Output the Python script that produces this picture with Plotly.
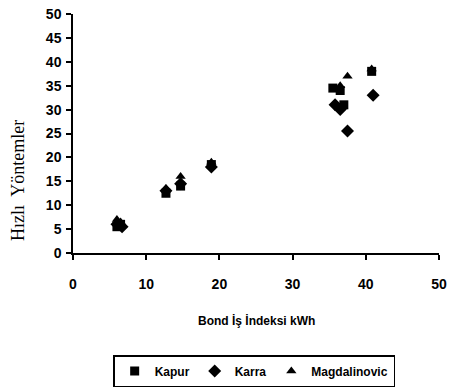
import plotly.graph_objects as go

kapur_x = [6.0, 6.5, 12.7, 14.7, 18.9, 35.5, 36.5, 37.0, 40.8]
kapur_y = [5.5, 6.0, 12.5, 14.0, 18.5, 34.5, 34.0, 31.0, 38.0]
karra_x = [6.0, 6.7, 12.7, 14.7, 18.9, 35.8, 36.5, 37.5, 41.0]
karra_y = [6.0, 5.5, 13.0, 14.5, 18.0, 31.0, 30.0, 25.5, 33.0]
magd_x = [6.0, 6.5, 12.7, 14.7, 18.9, 36.5, 37.5, 40.8]
magd_y = [7.0, 6.5, 13.5, 16.0, 19.0, 35.0, 37.0, 38.5]

x_ticks = [0, 10, 20, 30, 40, 50]
y_ticks = [0, 5, 10, 15, 20, 25, 30, 35, 40, 45, 50]

cond = "Liberation Sans Narrow, Liberation Sans, Arial, sans-serif"


def cfont(size):
    return dict(family=cond, size=size, color="black", weight="bold")


fig = go.Figure()
fig.add_trace(go.Scatter(x=kapur_x, y=kapur_y, mode="markers", name="Kapur",
                         marker=dict(symbol="square", size=9, color="black")))
fig.add_trace(go.Scatter(x=karra_x, y=karra_y, mode="markers", name="Karra",
                         marker=dict(symbol="diamond", size=10, color="black")))
fig.add_trace(go.Scatter(x=magd_x, y=magd_y, mode="markers", name="Magdalinovic",
                         marker=dict(symbol="triangle-up", size=9, color="black")))

fig.update_layout(
    width=452, height=391,
    margin=dict(l=73, r=13, t=14, b=138, autoexpand=False),
    paper_bgcolor="white", plot_bgcolor="white",
    font=cfont(13),
    showlegend=True,
    legend=dict(orientation="h", x=0.495, xanchor="center", y=-0.427, yanchor="top",
                bordercolor="black", borderwidth=1.5,
                font=cfont(12),
                itemwidth=30, tracegroupgap=0),
    xaxis=dict(range=[0, 50], tickvals=x_ticks, automargin=False,
               showline=True, linecolor="black", linewidth=1.5, showgrid=False, zeroline=False,
               ticks="outside", ticklen=5, tickwidth=1.5, tickcolor="black",
               ticklabelstandoff=12, ticklabeloverflow="allow", tickfont=cfont(14)),
    yaxis=dict(range=[0, 50], tickvals=y_ticks, automargin=False,
               showline=True, linecolor="black", linewidth=1.5, showgrid=False, zeroline=False,
               ticks="outside", ticklen=5, tickwidth=1.5, tickcolor="black",
               ticklabelstandoff=2, ticklabeloverflow="allow", tickfont=cfont(14)),
    annotations=[
        dict(text="Hızlı  Yöntemler", textangle=-90, xref="paper", yref="paper",
             x=(18 - 73) / 366, y=(253 - 181) / 239, xanchor="center", yanchor="middle",
             showarrow=False,
             font=dict(family="Liberation Serif, Times New Roman, serif", size=18,
                       color="black", weight="normal")),
        dict(text="Bond İş İndeksi kWh", xref="paper", yref="paper",
             x=(256 - 73) / 366, y=(253 - 320) / 239, xanchor="center", yanchor="middle",
             showarrow=False, font=cfont(12)),
    ],
)

fig.write_html("out.html", config={"displayModeBar": False},
               post_script="document.body.style.margin='0';document.body.style.overflow='hidden';")
